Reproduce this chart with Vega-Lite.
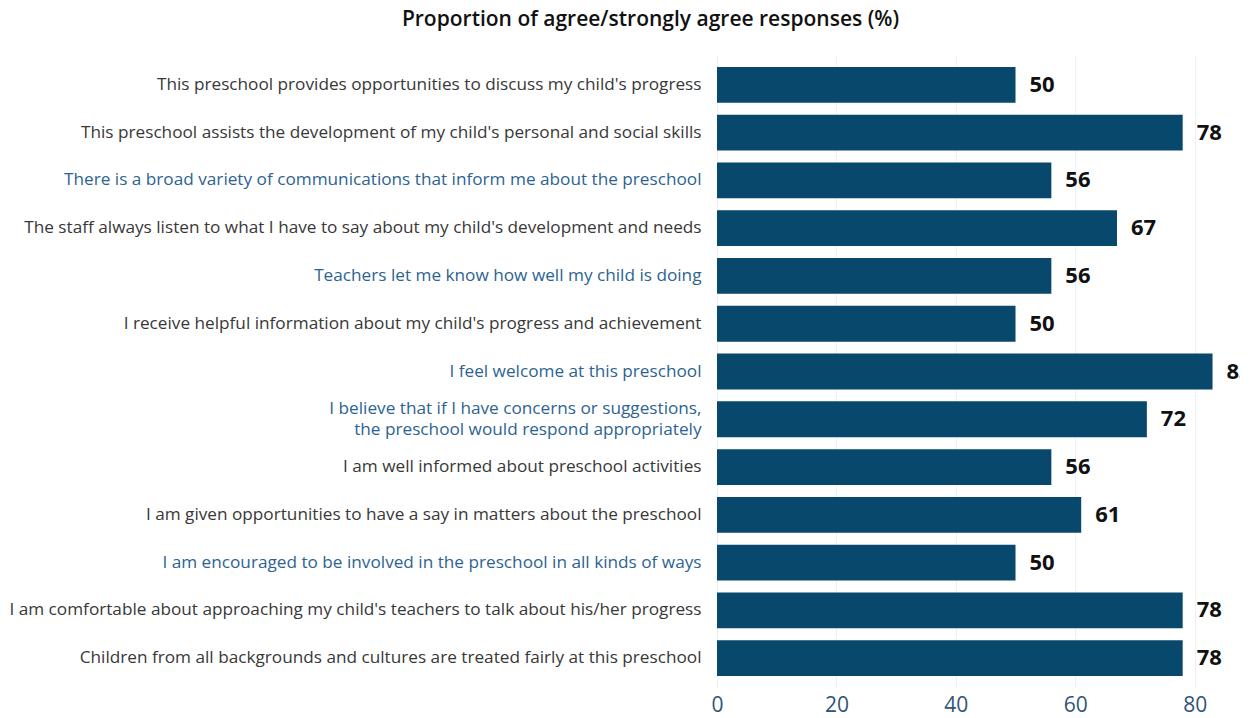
{
  "$schema": "https://vega.github.io/schema/vega-lite/v6.json",
  "autosize": "none",
  "width": 523,
  "height": 633,
  "padding": {"left": 717, "top": 55, "right": 11, "bottom": 30},
  "background": "white",
  "title": {
    "text": "Proportion of agree/strongly agree responses (%)",
    "anchor": "middle",
    "frame": "group",
    "dx": -328,
    "offset": 25,
    "font": "Open Sans",
    "fontSize": 21,
    "fontWeight": 600,
    "color": "#111111"
  },
  "data": {
    "values": [
      {"statement": "This preschool provides opportunities to discuss my child's progress", "pct": 50},
      {"statement": "This preschool assists the development of my child's personal and social skills", "pct": 78},
      {"statement": "There is a broad variety of communications that inform me about the preschool", "pct": 56},
      {"statement": "The staff always listen to what I have to say about my child's development and needs", "pct": 67},
      {"statement": "Teachers let me know how well my child is doing", "pct": 56},
      {"statement": "I receive helpful information about my child's progress and achievement", "pct": 50},
      {"statement": "I feel welcome at this preschool", "pct": 83},
      {"statement": "I believe that if I have concerns or suggestions, the preschool would respond appropriately", "pct": 72},
      {"statement": "I am well informed about preschool activities", "pct": 56},
      {"statement": "I am given opportunities to have a say in matters about the preschool", "pct": 61},
      {"statement": "I am encouraged to be involved in the preschool in all kinds of ways", "pct": 50},
      {"statement": "I am comfortable about approaching my child's teachers to talk about his/her progress", "pct": 78},
      {"statement": "Children from all backgrounds and cultures are treated fairly at this preschool", "pct": 78}
    ]
  },
  "encoding": {
    "y": {
      "field": "statement",
      "type": "nominal",
      "sort": null,
      "scale": {"paddingInner": 0.25, "paddingOuter": 0.25},
      "axis": {
        "title": null,
        "domain": false,
        "ticks": false,
        "labelPadding": 16,
        "labelLimit": 800,
        "labelFont": "Open Sans",
        "labelFontSize": 17.2,
        "labelLineHeight": 21,
        "labelExpr": "split(replace(datum.value, ', ', ',|'), '|')",
        "labelOffset": {"expr": "indexof(datum.value, 'I believe') == 0 ? -10 : 0"},
        "labelColor": {"expr": "indexof(['There is a broad variety of communications that inform me about the preschool','Teachers let me know how well my child is doing','I feel welcome at this preschool','I believe that if I have concerns or suggestions, the preschool would respond appropriately','I am encouraged to be involved in the preschool in all kinds of ways'], datum.value) >= 0 ? '#2d6393' : '#383838'"}
      }
    },
    "x": {
      "field": "pct",
      "type": "quantitative",
      "scale": {"domain": [0, 87.6], "nice": false},
      "axis": {
        "title": null,
        "values": [0, 20, 40, 60, 80],
        "domain": false,
        "ticks": false,
        "grid": true,
        "gridColor": "#eef1f4",
        "labelFlush": false,
        "labelFont": "Open Sans",
        "labelFontSize": 21,
        "labelColor": "#2f5577",
        "labelPadding": 6
      }
    }
  },
  "layer": [
    {"mark": {"type": "bar", "color": "#07486c"}},
    {
      "mark": {"type": "text", "align": "left", "baseline": "middle", "dx": 14, "font": "Open Sans", "fontSize": 22, "fontWeight": "bold", "color": "#111111", "clip": true},
      "encoding": {"text": {"field": "pct", "type": "quantitative"}}
    }
  ],
  "config": {"view": {"stroke": null}}
}
